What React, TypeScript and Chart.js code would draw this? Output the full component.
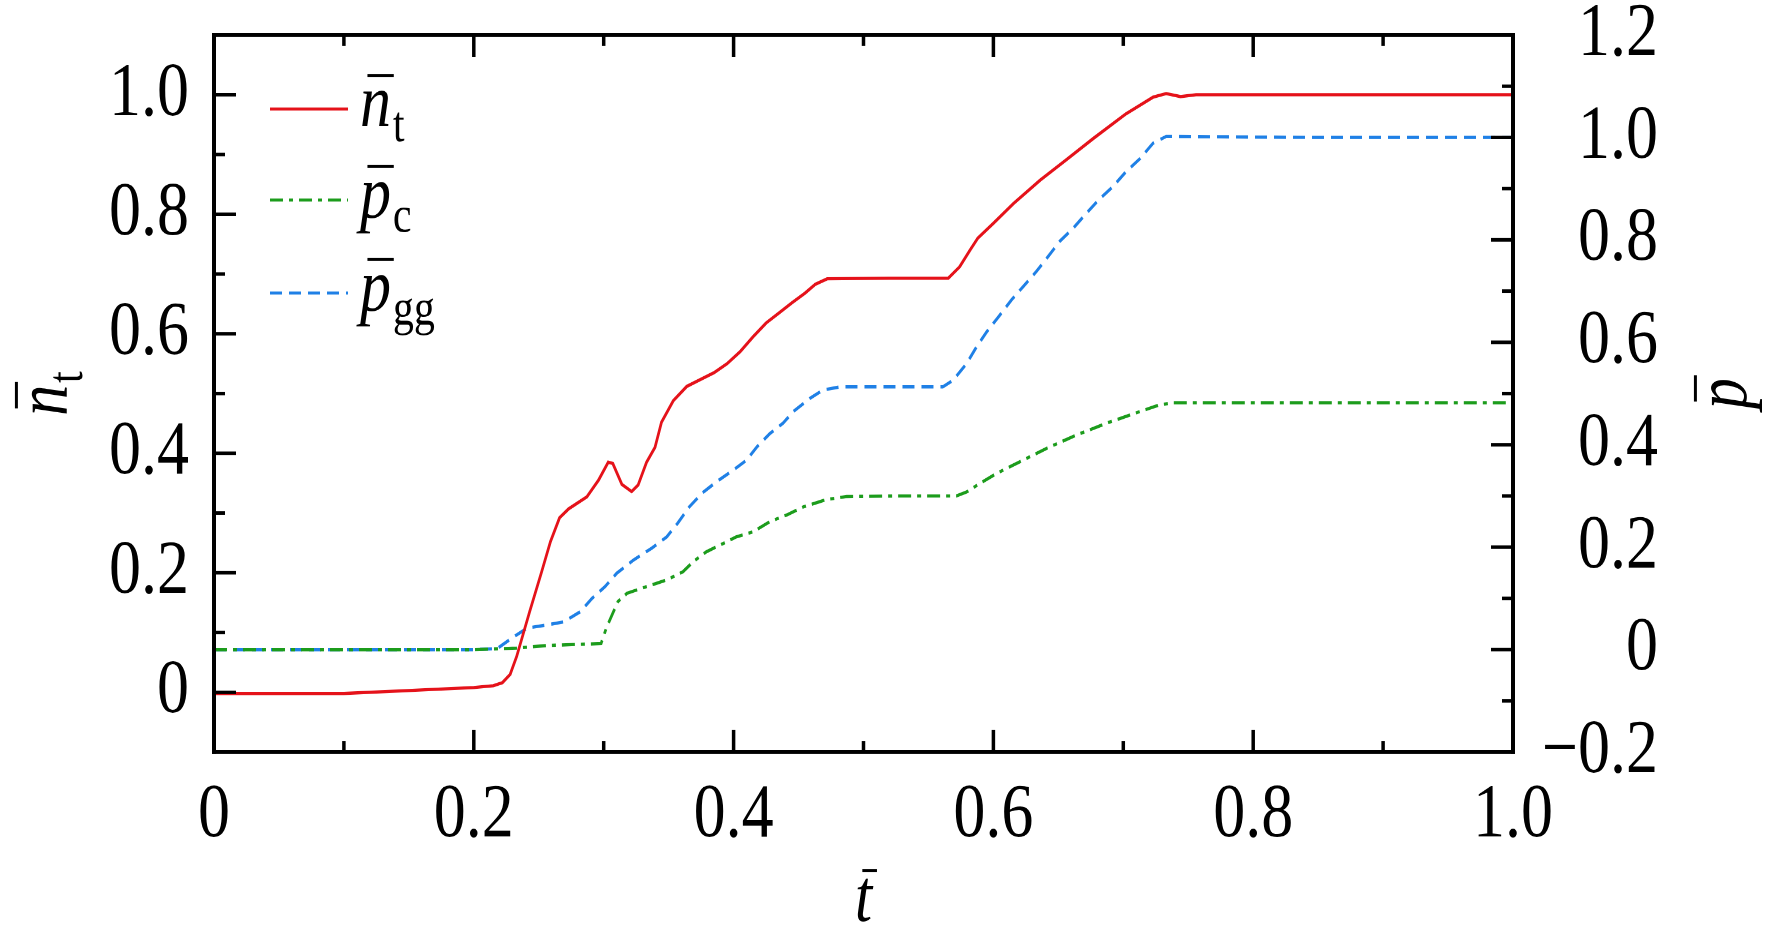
import { useEffect, useRef } from "react";
import { Chart, registerables } from "chart.js";

Chart.register(...registerables);

// red, left axis
const NT_T = [0, 0.05, 0.1, 0.15, 0.2, 0.215, 0.222, 0.228, 0.233, 0.243, 0.252, 0.259, 0.266, 0.273, 0.287, 0.296, 0.3035, 0.307, 0.314, 0.3215, 0.3265, 0.333, 0.3395, 0.3445, 0.3536, 0.364, 0.374, 0.385, 0.395, 0.405, 0.415, 0.425, 0.435, 0.445, 0.455, 0.463, 0.472, 0.52, 0.5653, 0.574, 0.582, 0.588, 0.6, 0.6155, 0.636, 0.656, 0.677, 0.702, 0.723, 0.733, 0.744, 0.756, 0.85, 1.0];
const NT_V = [-0.002, -0.002, -0.002, 0.003, 0.008, 0.011, 0.016, 0.03, 0.06, 0.135, 0.2, 0.252, 0.292, 0.307, 0.327, 0.355, 0.385, 0.383, 0.348, 0.336, 0.347, 0.385, 0.41, 0.452, 0.488, 0.512, 0.523, 0.535, 0.55, 0.57, 0.595, 0.618, 0.635, 0.652, 0.668, 0.683, 0.692, 0.693, 0.693, 0.712, 0.74, 0.76, 0.785, 0.818, 0.857, 0.891, 0.927, 0.968, 0.996, 1.002, 0.997, 1.0, 1.0, 1.0];

// green, right axis
const PC_T = [0, 0.1, 0.2, 0.233, 0.256, 0.289, 0.298, 0.302, 0.307, 0.311, 0.318, 0.333, 0.3485, 0.361, 0.369, 0.379, 0.3895, 0.402, 0.415, 0.428, 0.441, 0.454, 0.4715, 0.487, 0.53, 0.5715, 0.5795, 0.59, 0.6025, 0.6205, 0.641, 0.664, 0.687, 0.713, 0.728, 0.7385, 0.85, 1.0];
const PC_V = [0, 0, 0, 0.003, 0.008, 0.011, 0.012, 0.042, 0.071, 0.094, 0.11, 0.123, 0.136, 0.152, 0.172, 0.191, 0.204, 0.22, 0.23, 0.25, 0.263, 0.279, 0.293, 0.299, 0.3, 0.3, 0.308, 0.325, 0.344, 0.367, 0.393, 0.419, 0.442, 0.465, 0.478, 0.482, 0.482, 0.482];

// blue, right axis
const PGG_T = [0, 0.1, 0.2, 0.218, 0.229, 0.241, 0.256, 0.269, 0.282, 0.291, 0.301, 0.31, 0.323, 0.337, 0.3485, 0.357, 0.366, 0.3755, 0.387, 0.4, 0.41, 0.418, 0.428, 0.438, 0.446, 0.459, 0.469, 0.482, 0.52, 0.561, 0.569, 0.5795, 0.587, 0.595, 0.604, 0.614, 0.623, 0.633, 0.642, 0.651, 0.6615, 0.6705, 0.681, 0.692, 0.702, 0.713, 0.723, 0.733, 0.85, 1.0];
const PGG_V = [0, 0, 0, 0.002, 0.022, 0.042, 0.048, 0.054, 0.074, 0.1, 0.123, 0.149, 0.175, 0.198, 0.22, 0.247, 0.279, 0.305, 0.328, 0.351, 0.37, 0.396, 0.422, 0.442, 0.465, 0.491, 0.507, 0.513, 0.513, 0.513, 0.526, 0.559, 0.591, 0.621, 0.65, 0.683, 0.709, 0.738, 0.767, 0.797, 0.823, 0.849, 0.878, 0.904, 0.933, 0.959, 0.989, 1.002, 1.0, 1.0];

const X_TICKS = [0, 0.2, 0.4, 0.6, 0.8, 1.0];
const X_MINOR = [0.1, 0.3, 0.5, 0.7, 0.9];
const LEFT_TICKS = [0, 0.2, 0.4, 0.6, 0.8, 1.0];
const LEFT_MINOR = [0.1, 0.3, 0.5, 0.7, 0.9];
const RIGHT_TICKS = [-0.2, 0, 0.2, 0.4, 0.6, 0.8, 1.0, 1.2];
const RIGHT_MINOR = [-0.1, 0.1, 0.3, 0.5, 0.7, 0.9, 1.1];

const RED = "#e5121a";
const GREEN = "#1c9c1c";
const BLUE = "#1f80e6";
const DASH_DOT = [13, 6, 4, 6];
const DASHED = [12, 7];

// the figure's type is tall and narrow: the canvas is laid out short and stretched by SY
const SY = 1.2;
const W = 1772;
const H = 941;

const SERIF = '"Liberation Serif", "Times New Roman", serif';
const TICK_FONT = { family: SERIF, size: 64, lineHeight: 1.2 };

const fmt = (v: number) => {
  if (Math.abs(v) < 1e-9) return "0";
  return (v < 0 ? "\u2212" : "") + Math.abs(v).toFixed(1);
};

const pts = (ts: number[], vs: number[]) => ts.map((t, i) => ({ x: t, y: vs[i] }));

function symbolWidth(ctx: CanvasRenderingContext2D, main: string, sub: string, size: number, subSize: number) {
  ctx.font = `italic ${size}px ${SERIF}`;
  const w = ctx.measureText(main).width;
  ctx.font = `${subSize}px ${SERIF}`;
  const sw = sub ? ctx.measureText(sub).width : 0;
  return w + sw + (sub ? size * 0.03 : 0);
}

// italic letter with overbar and upright subscript, baseline at (x, y)
function drawSymbol(ctx: CanvasRenderingContext2D, x: number, y: number, main: string, sub: string, size: number, subSize: number) {
  ctx.fillStyle = "#000";
  ctx.textAlign = "left";
  ctx.textBaseline = "alphabetic";
  ctx.font = `italic ${size}px ${SERIF}`;
  const w = ctx.measureText(main).width;
  ctx.fillText(main, x, y);
  ctx.fillRect(x + size * 0.12, y - size * 0.7, w * 0.85, size * 0.04);
  if (sub) {
    ctx.font = `${subSize}px ${SERIF}`;
    ctx.fillText(sub, x + w + size * 0.03, y + size * 0.2);
  }
}

const framePlugin = {
  id: "frame",
  afterDraw(chart: any) {
    const { ctx, chartArea: a, scales } = chart;
    const sx = scales.x;
    const sl = scales.y;
    const sr = scales.y2;
    const MAJOR = 22;
    const MINOR = 11;
    const LW = 4;
    ctx.save();
    ctx.strokeStyle = "#000";
    ctx.setLineDash([]);
    ctx.lineCap = "butt";
    const seg = (x1: number, y1: number, x2: number, y2: number) => {
      ctx.beginPath();
      ctx.moveTo(x1, y1);
      ctx.lineTo(x2, y2);
      ctx.stroke();
    };
    // frame: vertical sides
    ctx.lineWidth = LW;
    seg(a.left, a.top - LW / 2 / SY, a.left, a.bottom + LW / 2 / SY);
    seg(a.right, a.top - LW / 2 / SY, a.right, a.bottom + LW / 2 / SY);
    // frame: horizontal sides
    ctx.lineWidth = LW / SY;
    seg(a.left - LW / 2, a.top, a.right + LW / 2, a.top);
    seg(a.left - LW / 2, a.bottom, a.right + LW / 2, a.bottom);

    ctx.lineWidth = 3.5;
    const xt = (vals: number[], len: number) =>
      vals.forEach((v) => {
        const p = sx.getPixelForValue(v);
        if (p <= a.left + 2 || p >= a.right - 2) return;
        seg(p, a.bottom, p, a.bottom - len / SY);
        seg(p, a.top, p, a.top + len / SY);
      });
    xt(X_TICKS, MAJOR);
    xt(X_MINOR, MINOR);
    ctx.lineWidth = 3.5 / SY;
    const yt = (scale: any, vals: number[], len: number, side: "l" | "r") =>
      vals.forEach((v) => {
        const p = scale.getPixelForValue(v);
        if (p <= a.top + 2 || p >= a.bottom - 2) return;
        if (side === "l") seg(a.left, p, a.left + len, p);
        else seg(a.right, p, a.right - len, p);
      });
    yt(sl, LEFT_TICKS, MAJOR, "l");
    yt(sl, LEFT_MINOR, MINOR, "l");
    yt(sr, RIGHT_TICKS, MAJOR, "r");
    yt(sr, RIGHT_MINOR, MINOR, "r");

    // legend (positions in final pixels, divided by SY)
    const entries = [
      { color: RED, dash: [] as number[], main: "n", sub: "t", y: 109 },
      { color: GREEN, dash: DASH_DOT, main: "p", sub: "c", y: 200 },
      { color: BLUE, dash: DASHED, main: "p", sub: "gg", y: 293 },
    ];
    entries.forEach((e) => {
      ctx.strokeStyle = e.color;
      ctx.lineWidth = 3 / SY;
      ctx.setLineDash(e.dash);
      seg(270, e.y / SY, 348, e.y / SY);
      ctx.setLineDash([]);
      drawSymbol(ctx, 360, (e.y + 17) / SY, e.main, e.sub, 62, 42);
    });

    // axis titles
    const TS = 62;
    const TSUB = 42;
    const cy = (a.top + a.bottom) / 2;
    const cx = (a.left + a.right) / 2;
    const rotated = (x: number, main: string, sub: string) => {
      ctx.save();
      ctx.translate(x, cy);
      ctx.scale(1, 1 / SY);
      ctx.rotate(-Math.PI / 2);
      ctx.scale(1, SY);
      drawSymbol(ctx, -symbolWidth(ctx, main, sub, TS, TSUB) / 2, 0, main, sub, TS, TSUB);
      ctx.restore();
    };
    rotated(67, "n", "t");
    rotated(1746, "p", "");
    drawSymbol(ctx, cx - symbolWidth(ctx, "t", "", TS, TSUB) / 2, 921 / SY, "t", "", TS, TSUB);
    ctx.restore();
  },
};

const App = () => {
  const canvasRef = useRef<HTMLCanvasElement | null>(null);
  const chartRef = useRef<Chart | null>(null);

  useEffect(() => {
    if (!canvasRef.current) return;
    if (chartRef.current) chartRef.current.destroy();

    const tickSet = (vals: number[]) => (s: any) => {
      s.ticks = vals.map((v) => ({ value: v }));
    };

    chartRef.current = new Chart(canvasRef.current, {
      type: "line",
      data: {
        datasets: [
          {
            label: "n_t",
            data: pts(NT_T, NT_V),
            yAxisID: "y",
            borderColor: RED,
            borderWidth: 2.7,
            pointRadius: 0,
            tension: 0,
          },
          {
            label: "p_c",
            data: pts(PC_T, PC_V),
            yAxisID: "y2",
            borderColor: GREEN,
            borderWidth: 2.7,
            borderDash: DASH_DOT,
            pointRadius: 0,
            tension: 0,
          },
          {
            label: "p_gg",
            data: pts(PGG_T, PGG_V),
            yAxisID: "y2",
            borderColor: BLUE,
            borderWidth: 2.7,
            borderDash: DASHED,
            pointRadius: 0,
            tension: 0,
          },
        ],
      },
      options: {
        animation: false,
        responsive: true,
        maintainAspectRatio: false,
        devicePixelRatio: 2,
        layout: { padding: { left: 0, top: 35 / SY, right: 114, bottom: 0 } },
        plugins: { legend: { display: false }, tooltip: { enabled: false } },
        scales: {
          x: {
            type: "linear",
            position: "bottom",
            min: 0,
            max: 1,
            afterBuildTicks: tickSet(X_TICKS),
            afterFit: (s: any) => {
              s.height = 189 / SY;
              s.paddingLeft = 0;
              s.paddingRight = 0;
            },
            grid: { display: false, drawTicks: false },
            border: { display: false },
            ticks: { font: TICK_FONT, color: "#000", padding: 15, maxRotation: 0, autoSkip: false, callback: (v: any) => fmt(Number(v)) },
          },
          y: {
            type: "linear",
            position: "left",
            min: -0.1,
            max: 1.1,
            afterBuildTicks: tickSet(LEFT_TICKS),
            afterFit: (s: any) => {
              s.width = 214;
              s.paddingTop = 0;
              s.paddingBottom = 0;
            },
            grid: { display: false, drawTicks: false },
            border: { display: false },
            ticks: { font: TICK_FONT, color: "#000", padding: 25, autoSkip: false, callback: (v: any) => fmt(Number(v)) },
          },
          y2: {
            type: "linear",
            position: "right",
            min: -0.2,
            max: 1.2,
            afterBuildTicks: tickSet(RIGHT_TICKS),
            afterFit: (s: any) => {
              s.width = 145;
              s.paddingTop = 0;
              s.paddingBottom = 0;
            },
            grid: { display: false, drawTicks: false },
            border: { display: false },
            ticks: { font: TICK_FONT, color: "#000", padding: 20, crossAlign: "far", autoSkip: false, callback: (v: any) => fmt(Number(v)) },
          },
        },
      },
      plugins: [framePlugin],
    });

    return () => {
      if (chartRef.current) {
        chartRef.current.destroy();
        chartRef.current = null;
      }
    };
  }, []);

  return (
    <div style={{ position: "fixed", left: 0, top: 0, width: W, height: H, background: "#fff", overflow: "hidden" }}>
      <div style={{ width: W, height: H / SY, transform: `scaleY(${SY})`, transformOrigin: "0 0" }}>
        <canvas ref={canvasRef} />
      </div>
    </div>
  );
};

export default App;
